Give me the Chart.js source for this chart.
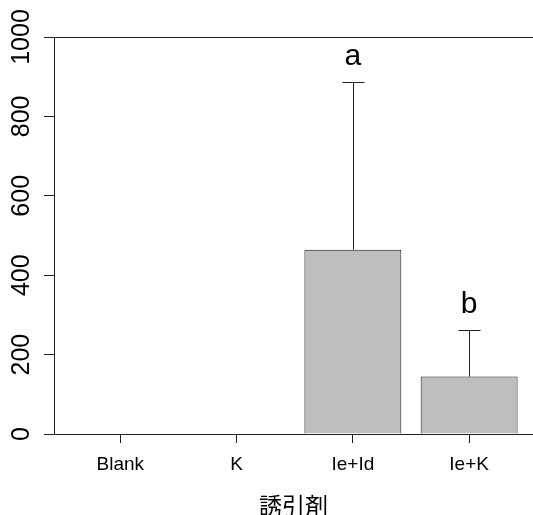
<!DOCTYPE html>
<html>
<head>
<meta charset="utf-8">
<script src="https://cdn.jsdelivr.net/npm/chart.js@4/dist/chart.umd.min.js"></script>
<style>
  html, body { margin: 0; padding: 0; background: #fff; }
  canvas { display: block; }
</style>
</head>
<body>
<canvas id="barChart" width="533" height="515"></canvas>
<script>
const categories = ["Blank", "K", "Ie+Id", "Ie+K"];
const means = [0, 0, 464, 145];
const errors = [0, 0, 423, 118];
const letters = ["", "", "a", "b"];
const yTicks = [0, 200, 400, 600, 800, 1000];
const axisTitle = "誘引剤";

// barplot style midpoints: width 1, space 0.2
const mids = categories.map((c, i) => 0.7 + 1.2 * i);

const lineColor = "#222";
const sansFont = "'Liberation Sans', Arial, sans-serif";

const extrasPlugin = {
    id: "extras",
    afterDatasetsDraw(chart) {
        const ctx = chart.ctx;
        const xs = chart.scales.x;
        const ys = chart.scales.y;
        ctx.save();
        // error bars
        ctx.strokeStyle = lineColor;
        ctx.lineWidth = 1;
        means.forEach((m, i) => {
            if (!errors[i]) return;
            const x = Math.round(xs.getPixelForValue(mids[i])) + 0.5;
            const y0 = ys.getPixelForValue(m);
            const y1 = Math.round(ys.getPixelForValue(m + errors[i])) + 0.5;
            ctx.beginPath();
            ctx.moveTo(x, y0);
            ctx.lineTo(x, y1);
            ctx.moveTo(x - 11, y1);
            ctx.lineTo(x + 11, y1);
            ctx.stroke();
        });
        // significance letters
        ctx.fillStyle = "#000";
        ctx.font = "30px " + sansFont;
        ctx.textAlign = "center";
        ctx.textBaseline = "alphabetic";
        letters.forEach((t, i) => {
            if (!t) return;
            const x = xs.getPixelForValue(mids[i]);
            const y = ys.getPixelForValue(means[i] + errors[i]);
            ctx.fillText(t, x, y - 17);
        });
        // rotated y tick labels
        ctx.font = "25px " + sansFont;
        ctx.textBaseline = "middle";
        yTicks.forEach(v => {
            const y = ys.getPixelForValue(v);
            ctx.save();
            ctx.translate(22, y);
            ctx.rotate(-Math.PI / 2);
            ctx.fillText(String(v), 0, 0);
            ctx.restore();
        });
        ctx.restore();
    }
};

new Chart(document.getElementById("barChart").getContext("2d"), {
    type: "bar",
    data: {
        datasets: [{
            data: means.map((v, i) => ({ x: mids[i], y: v })),
            backgroundColor: "#bebebe",
            borderColor: "#1a1a1a",
            borderWidth: 1,
            categoryPercentage: 1,
            barPercentage: 1 / 1.2
        }]
    },
    options: {
        responsive: false,
        animation: false,
        layout: { padding: { top: 37, left: 0, right: 0, bottom: 0 } },
        plugins: {
            legend: { display: false },
            tooltip: { enabled: false }
        },
        scales: {
            x: {
                type: "linear",
                min: 0.016,
                max: 4.959,
                offset: false,
                afterBuildTicks(scale) {
                    scale.ticks = mids.map(v => ({ value: v }));
                },
                afterFit(scale) { scale.height = 81; },
                ticks: {
                    color: "#000",
                    font: { family: sansFont, size: 19 },
                    padding: 10,
                    maxRotation: 0,
                    autoSkip: false,
                    callback(value) {
                        const i = mids.findIndex(m => Math.abs(m - value) < 1e-6);
                        return i >= 0 ? categories[i] : "";
                    }
                },
                grid: {
                    offset: false,
                    drawOnChartArea: false,
                    tickColor: lineColor,
                    tickLength: 9
                },
                border: { display: false },
                title: {
                    display: true,
                    text: axisTitle,
                    color: "#000",
                    font: { family: "'Noto Sans CJK JP', sans-serif", size: 23 },
                    padding: { top: 0, bottom: -4 }
                }
            },
            y: {
                min: 0,
                max: 1000,
                afterBuildTicks(scale) {
                    scale.ticks = yTicks.map(v => ({ value: v }));
                },
                afterFit(scale) { scale.width = 54; },
                ticks: { display: false },
                grid: {
                    color: c => (c.tick && (c.tick.value === 0 || c.tick.value === 1000)) ? lineColor : "rgba(0,0,0,0)",
                    tickColor: lineColor,
                    tickLength: 10
                },
                border: { display: true, color: lineColor }
            }
        }
    },
    plugins: [extrasPlugin]
});
</script>
</body>
</html>
